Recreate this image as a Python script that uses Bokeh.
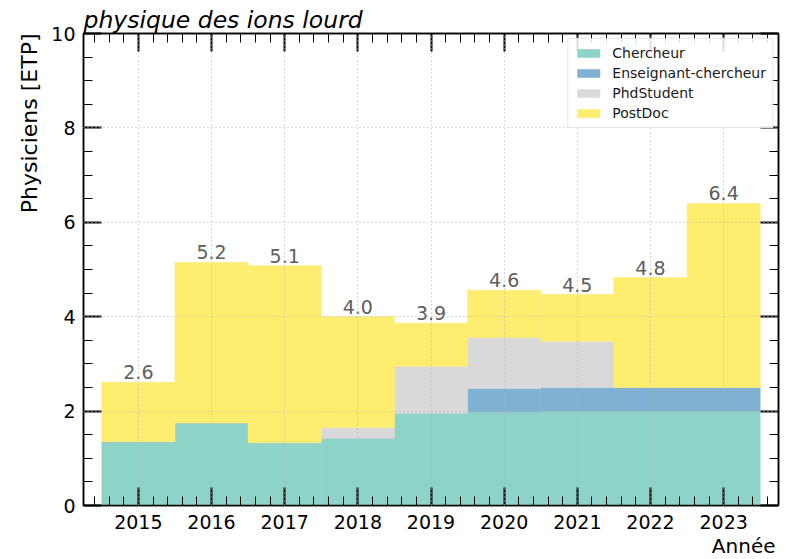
import numpy as np
from bokeh.plotting import figure
from bokeh.models import ColumnDataSource, Range1d, FixedTicker, LinearAxis, Title
from bokeh.embed import file_html
from bokeh.resources import INLINE
from bokeh.core.properties import value

years = [2015, 2016, 2017, 2018, 2019, 2020, 2021, 2022, 2023]
chercheur = [1.35, 1.75, 1.33, 1.42, 1.95, 1.98, 2.0, 2.0, 2.0]
enseignant = [0.0, 0.0, 0.0, 0.0, 0.0, 0.5, 0.5, 0.5, 0.5]
phd = [0.0, 0.0, 0.0, 0.23, 1.0, 1.08, 0.98, 0.0, 0.0]
postdoc = [1.26, 3.4, 3.75, 2.35, 0.91, 1.0, 0.99, 2.33, 3.9]
categories = ["Chercheur", "Enseignant-chercheur", "PhdStudent", "PostDoc"]
colors = ["#8dd3c7", "#80b1d3", "#d9d9d9", "#ffed6f"]
y_ticks = [0, 2, 4, 6, 8, 10]

totals = [round(a + b + c + d, 2) for a, b, c, d in zip(chercheur, enseignant, phd, postdoc)]
labels = [f"{t:.1f}" for t in totals]

src = ColumnDataSource(dict(year=years, Chercheur=chercheur,
                            **{"Enseignant-chercheur": enseignant},
                            PhdStudent=phd, PostDoc=postdoc,
                            total=totals, label=labels))

FONT = "DejaVu Sans"
x_lo, x_hi = years[0] - 0.75, years[-1] + 0.75
p = figure(frame_width=695, frame_height=472,
           x_range=Range1d(x_lo, x_hi), y_range=Range1d(0, 10),
           output_backend="svg", toolbar_location=None,
           min_border_left=83, min_border_right=2, min_border_top=33, min_border_bottom=54,
           background_fill_color="white", border_fill_color="white")
p.outline_line_color = "black"
p.outline_line_width = 1.5

p.vbar_stack(categories, x="year", width=1.0, color=colors, source=src,
             legend_label=categories, line_width=0.5)

p.text(x="year", y="total", text="label", source=src, text_align="center",
       text_baseline="alphabetic", y_offset=-10, text_font=value(FONT),
       text_font_size="19px", text_color="#5e5e5e")

for g in (p.xgrid, p.ygrid):
    g.grid_line_color = "#b0b0b0"
    g.grid_line_dash = "1 3"
    g.grid_line_width = 1
    g.level = "overlay"
p.xgrid.ticker = FixedTicker(ticks=years)
p.ygrid.ticker = FixedTicker(ticks=y_ticks[1:-1])

x_minor = [round(years[0] - 1 + 0.2 * i, 1) for i in range(5 * (len(years) + 1) + 1)]
y_minor = [0.5 * i for i in range(21)]

def style(ax, ticks, minor, show_labels):
    ax.ticker = FixedTicker(ticks=ticks, minor_ticks=minor)
    ax.major_tick_in = 18
    ax.major_tick_out = 0
    ax.minor_tick_in = 9
    ax.minor_tick_out = 0
    ax.major_tick_line_width = 2
    ax.minor_tick_line_width = 1
    ax.major_tick_line_color = "black"
    ax.minor_tick_line_color = "black"
    ax.axis_line_color = "black"
    ax.axis_line_width = 1.5
    ax.major_label_text_font = FONT
    ax.major_label_text_font_size = "19px"
    ax.major_label_text_color = "black"
    ax.major_label_standoff = 8
    if not show_labels:
        ax.major_label_text_font_size = "0px"
        ax.major_label_text_alpha = 0
        ax.major_label_standoff = 0

xb = p.xaxis[0]
yl = p.yaxis[0]
style(xb, years, x_minor, True)
style(yl, y_ticks, y_minor, True)
xb.major_label_standoff = 9
xt = LinearAxis()
yr = LinearAxis()
style(xt, years, x_minor, False)
style(yr, y_ticks, y_minor, False)
p.add_layout(xt, "above")
p.add_layout(yr, "right")

# title
p.title.text = "physique des ions lourd"
p.title.text_font = FONT
p.title.text_font_size = "23.5px"
p.title.text_font_style = "italic"
p.title.text_color = "black"
p.title.align = "left"
p.title.standoff = 0

# y label (top aligned)
p.add_layout(Title(text="Physiciens [ETP]", align="right", vertical_align="top",
                   text_font=FONT, text_font_size="22px", text_font_style="normal",
                   text_color="black", standoff=10), "left")

# x label (right aligned)
p.add_layout(Title(text="Année", align="right", vertical_align="bottom",
                   text_font=FONT, text_font_size="20px", text_font_style="normal",
                   text_color="black", standoff=0, offset=3), "below")

lg = p.legend[0]
lg.location = "top_right"
lg.margin = 5
lg.padding = 6
lg.spacing = 4
lg.label_height = 15
lg.glyph_height = 10
lg.glyph_width = 28
lg.label_standoff = 10
lg.label_text_font = FONT
lg.label_text_font_size = "14px"
lg.label_text_color = "#1a1a1a"
lg.border_line_color = "#d0d0d0"
lg.border_line_width = 1
lg.background_fill_alpha = 0.85

open("out.html", "w").write(file_html(p, INLINE))
